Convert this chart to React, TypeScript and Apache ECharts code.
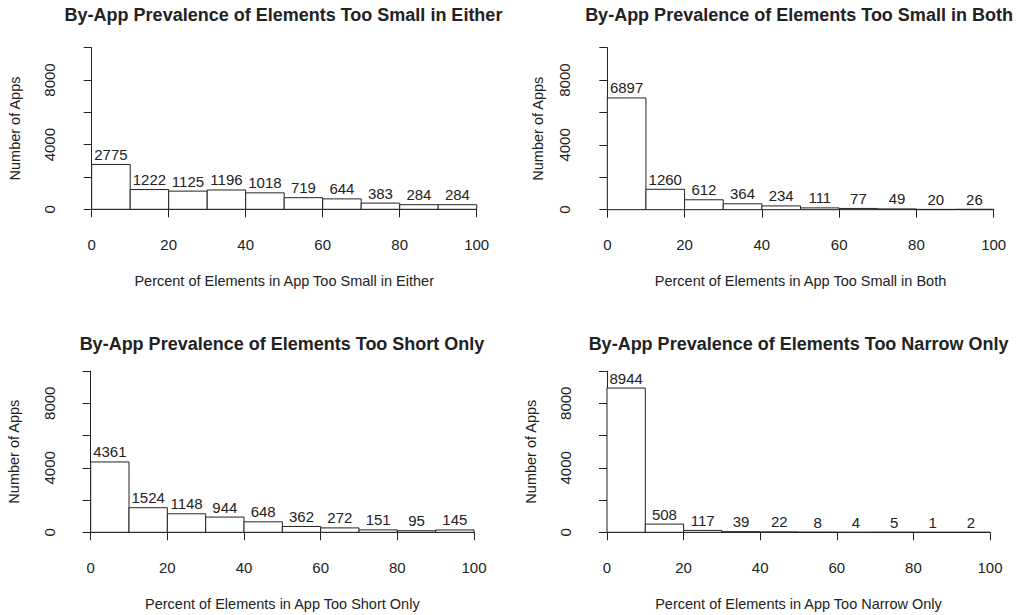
import React, { useEffect, useRef } from "react";
import * as echarts from "echarts";

const binEdges = [0, 10, 20, 30, 40, 50, 60, 70, 80, 90, 100];
const xTicks = [0, 20, 40, 60, 80, 100];
const yTickLabels = [0, 4000, 8000];

const titles = [
  "By-App Prevalence of Elements Too Small in Either",
  "By-App Prevalence of Elements Too Small in Both",
  "By-App Prevalence of Elements Too Short Only",
  "By-App Prevalence of Elements Too Narrow Only",
];
const xNames = [
  "Percent of Elements in App Too Small in Either",
  "Percent of Elements in App Too Small in Both",
  "Percent of Elements in App Too Short Only",
  "Percent of Elements in App Too Narrow Only",
];
const yName = "Number of Apps";

const countsEither = [2775, 1222, 1125, 1196, 1018, 719, 644, 383, 284, 284];
const countsBoth = [6897, 1260, 612, 364, 234, 111, 77, 49, 20, 26];
const countsShort = [4361, 1524, 1148, 944, 648, 362, 272, 151, 95, 145];
const countsNarrow = [8944, 508, 117, 39, 22, 8, 4, 5, 1, 2];
const allCounts = [countsEither, countsBoth, countsShort, countsNarrow];

// layout (pixels)
const grids = [
  { left: 91.7, top: 47.7, width: 385, height: 161.6, yOff: 16.4, yGap: 53, titleX: 283.5, titleY: 6 },
  { left: 607.3, top: 47.7, width: 386.4, height: 162, yOff: 17, yGap: 44.5, titleX: 799, titleY: 6 },
  { left: 90.7, top: 371, width: 383.3, height: 161.3, yOff: 16, yGap: 53, titleX: 282, titleY: 335 },
  { left: 607, top: 371, width: 383, height: 161.3, yOff: 16, yGap: 53, titleX: 798.5, titleY: 335 },
];

const INK = "#222";
const FONT = "Liberation Sans, Arial, Helvetica, sans-serif";

export default function App() {
  const ref = useRef<HTMLDivElement>(null);
  useEffect(() => {
    if (!ref.current) return;
    const chart = echarts.init(ref.current, undefined, { renderer: "svg" });
    const option: any = {
      animation: false,
      backgroundColor: "#fff",
      textStyle: { fontFamily: FONT },
      title: grids.map((g, i) => ({
        text: titles[i],
        left: g.titleX,
        top: g.titleY,
        padding: 0,
        textAlign: "center",
        textStyle: { fontFamily: FONT, fontSize: 18, fontWeight: "bold", color: INK },
      })),
      grid: grids.map((g) => ({ left: g.left, top: g.top, width: g.width, height: g.height })),
      xAxis: grids.map((g, i) => ({
        type: "value",
        gridIndex: i,
        min: 0,
        max: 100,
        interval: 20,
        offset: 6.7,
        name: xNames[i],
        nameLocation: "middle",
        nameGap: 57,
        nameTextStyle: { fontFamily: FONT, fontSize: 14.5, color: INK },
        axisLine: { show: true, lineStyle: { color: INK, width: 1 } },
        axisTick: { show: true, length: 8, lineStyle: { color: INK } },
        axisLabel: {
          margin: 20.5,
          fontFamily: FONT,
          fontSize: 15,
          color: INK,
          formatter: (v: number) => (xTicks.includes(v) ? String(v) : ""),
        },
        splitLine: { show: false },
      })),
      yAxis: grids.map((g, i) => ({
        type: "value",
        gridIndex: i,
        min: 0,
        max: 10000,
        interval: 2000,
        offset: g.yOff,
        name: yName,
        nameLocation: "middle",
        nameGap: g.yGap,
        nameTextStyle: { fontFamily: FONT, fontSize: 14.5, color: INK },
        axisLine: { show: true, lineStyle: { color: INK, width: 1 } },
        axisTick: { show: true, length: 8, lineStyle: { color: INK } },
        axisLabel: {
          rotate: 90,
          margin: 18,
          fontFamily: FONT,
          fontSize: 15,
          color: INK,
          formatter: (v: number) => (yTickLabels.includes(v) ? String(v) : ""),
        },
        splitLine: { show: false },
      })),
      series: allCounts.map((counts, i) => ({
        type: "custom",
        xAxisIndex: i,
        yAxisIndex: i,
        clip: false,
        data: counts.map((c, k) => [binEdges[k], binEdges[k + 1], c]),
        renderItem: (params: any, api: any) => {
          const lo = api.value(0);
          const hi = api.value(1);
          const c = api.value(2);
          const p0 = api.coord([lo, c]);
          const p1 = api.coord([hi, 0]);
          return {
            type: "group",
            children: [
              {
                type: "rect",
                shape: { x: p0[0], y: p0[1], width: p1[0] - p0[0], height: p1[1] - p0[1] },
                style: { fill: "#fff", stroke: INK, lineWidth: 1 },
              },
              {
                type: "text",
                x: (p0[0] + p1[0]) / 2,
                y: p0[1] - 2.5,
                style: {
                  text: String(c),
                  fill: INK,
                  font: `15px ${FONT}`,
                  align: "center",
                  verticalAlign: "bottom",
                },
              },
            ],
          };
        },
      })),
    };
    chart.setOption(option);
    return () => chart.dispose();
  }, []);
  return (
    <div
      ref={ref}
      style={{ position: "absolute", left: 0, top: 0, width: 1022, height: 615, background: "#fff" }}
    />
  );
}
